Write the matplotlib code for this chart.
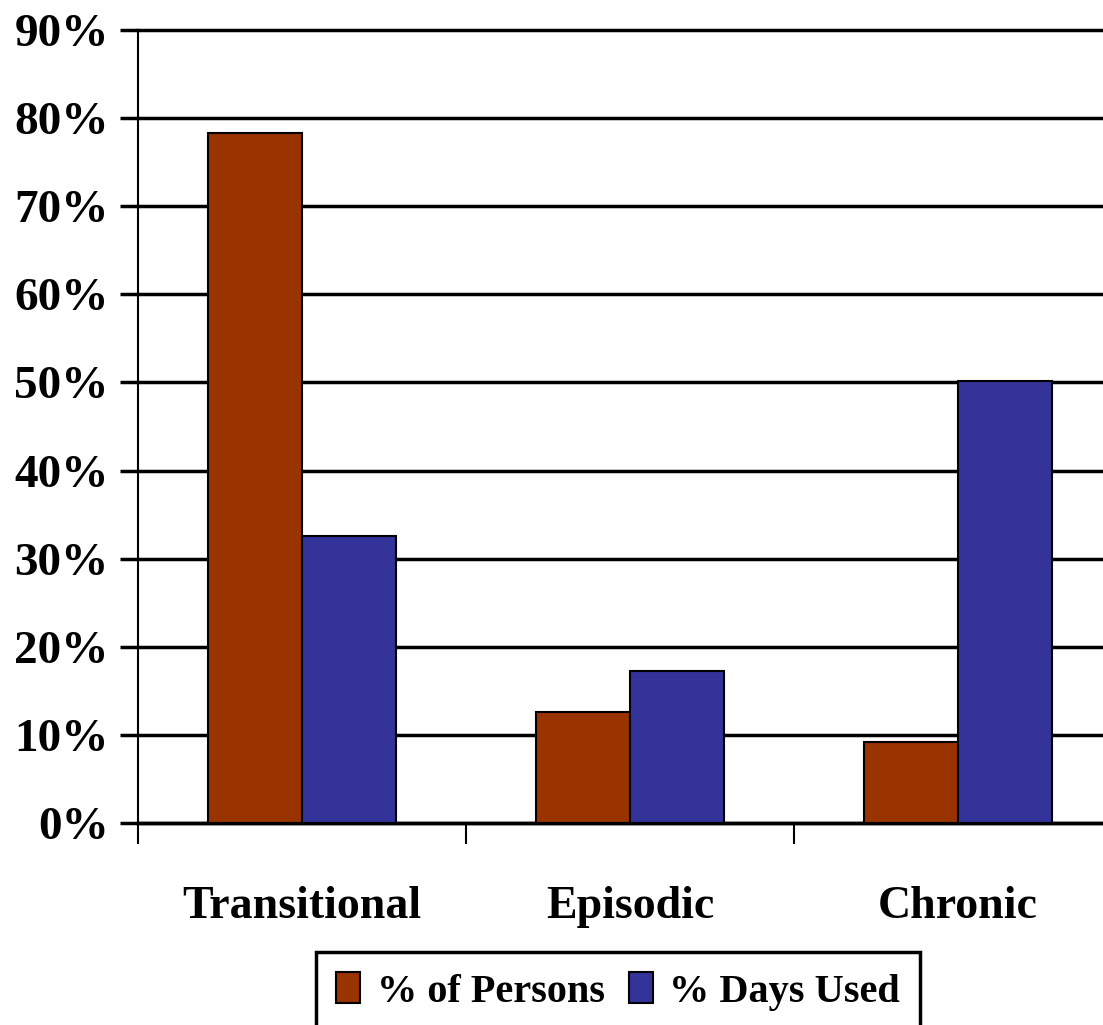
import numpy as np
import matplotlib.pyplot as plt

categories = ["Transitional", "Episodic", "Chronic"]
persons = [78.3, 12.6, 9.2]
days_used = [32.6, 17.2, 50.2]
series_names = ["% of Persons", "% Days Used"]
yticks = [0, 10, 20, 30, 40, 50, 60, 70, 80, 90]

plt.rcParams['font.family'] = ['Liberation Serif', 'DejaVu Serif']
plt.rcParams['font.weight'] = 'bold'

W, H = 1103, 1025
fig = plt.figure(figsize=(W / 100, H / 100), dpi=100)
# axes span goes past the right edge of the figure, like the original
ax = fig.add_axes([138 / W, 1 - 823 / H, 984 / W, (823 - 30) / H])

x = np.arange(len(categories))
bw = 0.287
ax.bar(x - bw / 2, persons, bw, color="#993300", edgecolor="black", linewidth=1.5,
       label=series_names[0], zorder=3)
ax.bar(x + bw / 2, days_used, bw, color="#333399", edgecolor="black", linewidth=1.5,
       label=series_names[1], zorder=3)

ax.set_xlim(-0.5, 2.5)
ax.set_ylim(0, 90)
ax.set_yticks(yticks)
ax.set_yticklabels([f"{v}%" for v in yticks], fontsize=34, fontweight='bold')
ax.yaxis.grid(True, color="black", linewidth=2.5)
ax.set_axisbelow(True)
for gl in ax.get_ygridlines():
    gl.set_clip_on(False)

ax.set_xticks([-0.5, 0.5, 1.5, 2.5])
ax.set_xticklabels([])
ax.set_xticks(x, minor=True)
ax.set_xticklabels(categories, minor=True, fontsize=33, fontweight='bold')
ax.tick_params(axis='x', which='major', length=15, width=1.5, direction='out')
ax.tick_params(axis='x', which='minor', length=0, pad=45)
ax.tick_params(axis='y', length=13, width=2.5, pad=8)

for s in ['top', 'right']:
    ax.spines[s].set_visible(False)
ax.spines['left'].set_linewidth(1.5)
ax.spines['bottom'].set_linewidth(2.5)

leg = fig.legend(loc='upper center', bbox_to_anchor=(618 / W, 1 - 952 / H), ncol=2,
                 fontsize=29, frameon=True, fancybox=False, edgecolor="black",
                 framealpha=1, handlelength=0.6, handleheight=0.8, handletextpad=0.4,
                 columnspacing=0.6, borderpad=0.5, borderaxespad=0)
leg.get_frame().set_linewidth(2.5)

fig.savefig("out.png", dpi=100)
